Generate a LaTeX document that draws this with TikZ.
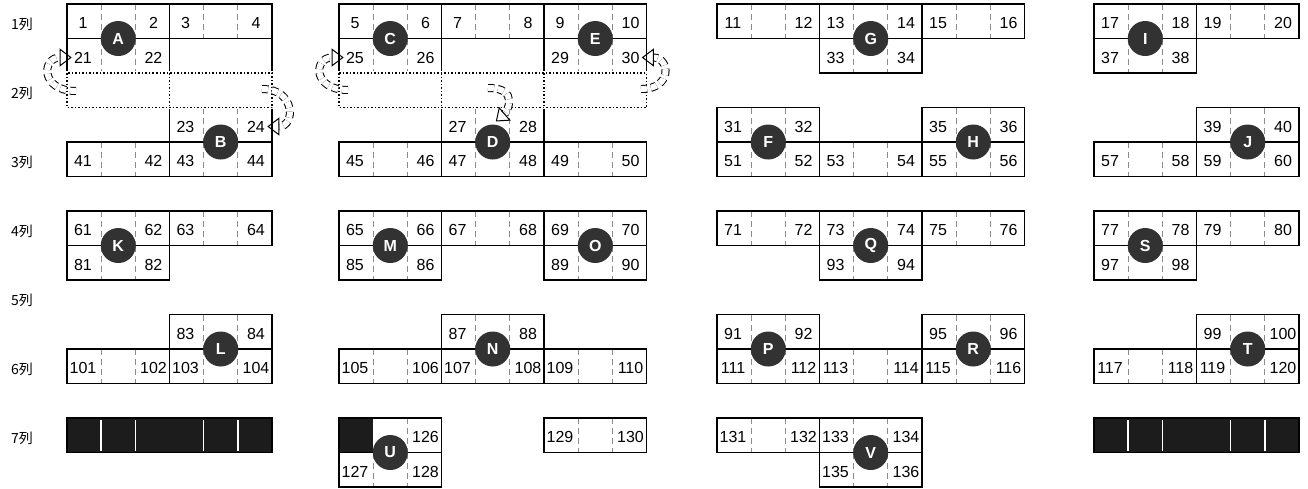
\documentclass[tikz,border=0pt]{standalone}
\usepackage{fontspec}
\setmainfont{Liberation Sans}
\newfontfamily\jpfont{Noto Sans CJK JP}
\usetikzlibrary{arrows.meta}
\definecolor{thirdgray}{RGB}{140,140,140}
\definecolor{balldark}{RGB}{50,50,50}
\definecolor{barblack}{RGB}{28,28,28}
\newcommand{\cellw}{102.5}
\newcommand{\cellh}{34.5}
\tikzset{
  cellline/.style={line width=0.9pt},
  thirdline/.style={thirdgray, densely dashed, line width=0.35pt},
  bandline/.style={densely dotted, line width=0.75pt},
  num/.style={inner sep=1pt, font=\fontsize{8}{9}\selectfont},
  rowlab/.style={font=\jpfont\fontsize{7}{8}\selectfont},
  ball/.style={circle, fill=balldark, text=white, minimum size=17.5pt, inner sep=0pt, font=\bfseries\fontsize{8}{9}\selectfont},
  movearrow/.style={densely dashed, line width=0.5pt, double=white, double distance=3pt, -{Triangle[open,length=6pt,width=9pt]}}
}
\newcommand{\seatcell}[4]{%
  \draw[thirdline] ({#1+\cellw/3},#2) -- ++(0,\cellh) ({#1+2*\cellw/3},#2) -- ++(0,\cellh);
  \draw[cellline] (#1,#2) rectangle ++(\cellw,\cellh);
  \node[num] (s#3) at ({#1+16},{#2+19}) {#3};
  \node[num] (s#4) at ({#1+\cellw-16},{#2+19}) {#4};
}

\begin{document}
\begin{tikzpicture}[x=0.5pt, y=-0.5pt]
  \useasboundingbox (0,1) rectangle (1308,489);
  \foreach \k in {1,...,7}
    \node[rowlab] (lab\k) at (22,{25+69*(\k-1)}) {\k{}列};
  \foreach \y/\n in {5/0, 143/40, 212/60, 350/100}
    \foreach \x [count=\i from 0] in {67,169.5,339,441.5,544,717,819.5,922,1094,1196.5} {
      \pgfmathtruncatemacro{\a}{\n+2*\i+1}
      \pgfmathtruncatemacro{\b}{\n+2*\i+2}
      \seatcell{\x}{\y}{\a}{\b}
    }
  \foreach \x/\y/\a/\b in {67/39.5/21/22, 339/39.5/25/26, 544/39.5/29/30, 819.5/39.5/33/34, 1094/39.5/37/38,
      169.5/108.5/23/24, 441.5/108.5/27/28, 717/108.5/31/32, 922/108.5/35/36, 1196.5/108.5/39/40,
      67/246.5/81/82, 339/246.5/85/86, 544/246.5/89/90, 819.5/246.5/93/94, 1094/246.5/97/98,
      169.5/315.5/83/84, 441.5/315.5/87/88, 717/315.5/91/92, 922/315.5/95/96, 1196.5/315.5/99/100,
      544/419/129/130, 717/419/131/132, 819.5/419/133/134, 339/453.5/127/128, 819.5/453.5/135/136}
    {\seatcell{\x}{\y}{\a}{\b}}
  \foreach \x in {169.5,441.5}
    \draw[cellline] (\x,39.5) rectangle ++(\cellw,\cellh);

  \draw[white, line width=1.8pt] (67,74) rectangle ++({2*\cellw},\cellh) (339,74) rectangle ++({3*\cellw},\cellh);
  \draw[bandline] (67,74) rectangle ++({2*\cellw},\cellh) (339,74) rectangle ++({3*\cellw},\cellh);
  \draw[bandline] (169.5,74) -- ++(0,\cellh) (441.5,74) -- ++(0,\cellh) (544,74) -- ++(0,\cellh);

  \fill[barblack] (339,419) rectangle ++({\cellw/3},\cellh);
  \draw[thirdline] ({339+2*\cellw/3},419) -- ++(0,\cellh);
  \draw[cellline] (339,419) rectangle ++(\cellw,\cellh);
  \node[num] (s126) at ({339+\cellw-16},438) {126};

  \foreach \x in {67,1094} {
    \fill[barblack] (\x,419) rectangle ++({2*\cellw},\cellh);
    \foreach \k in {1,2,4,5}
      \draw[white, line width=0.8pt] ({\x+\k*\cellw/3},421) -- ++(0,{\cellh-4});
    \draw[cellline] (\x,419) rectangle ++({2*\cellw},\cellh);
  }

  \foreach \l/\x/\y in {A/118.25/39.5, C/390.25/39.5, E/595.25/39.5, G/870.75/39.5, I/1145.25/39.5,
      B/220.75/143, D/492.75/143, F/768.25/143, H/973.25/143, J/1247.75/143,
      K/118.25/246.5, M/390.25/246.5, O/595.25/246.5, Q/870.75/246.5, S/1145.25/246.5,
      L/220.75/350, N/492.75/350, P/768.25/350, R/973.25/350, T/1247.75/350,
      U/390.25/453.5, V/870.75/453.5}
    \node[ball] (ball\l) at (\x,\y) {\l};

  \coordinate (t21) at (76,92);
  \coordinate (t24) at (262,90);
  \coordinate (t25) at (348,91);
  \coordinate (tD) at (488,89);
  \coordinate (t30) at (641,90);
  \draw[movearrow] (t21) .. controls +(-36,0) and +(-30,0) .. (s21.west);
  \draw[movearrow] (t24) .. controls +(34,0) and +(28,0) .. (s24.east);
  \draw[movearrow] (t25) .. controls +(-36,0) and +(-30,0) .. (s25.west);
  \draw[movearrow, shorten >=2pt] (tD) .. controls +(32,0) and +(14,-12) .. (ballD.north);
  \draw[movearrow] (t30) .. controls +(32,0) and +(28,0) .. (s30.east);
\end{tikzpicture}
\end{document}
